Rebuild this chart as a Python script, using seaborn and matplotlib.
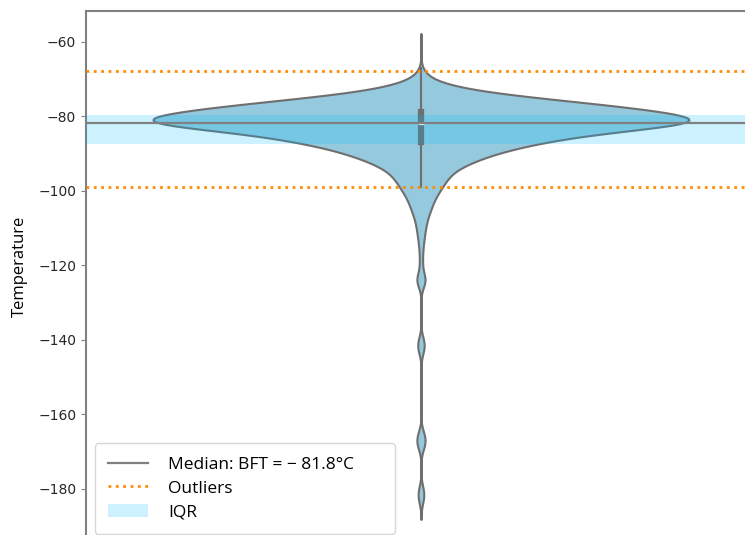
import numpy as np
import matplotlib
matplotlib.use("Agg")
import matplotlib.pyplot as plt
import seaborn as sns

# Frequency table of recorded temperatures (°C) and how often each occurs
temps = [-61, -67, -68, -69, -70, -71, -72, -73, -74, -75, -76, -77, -78, -79,
         -80, -81, -82, -83, -84, -85, -86, -87, -88, -89, -90, -91, -92, -93,
         -94, -95, -96, -97, -98, -99, -100, -101, -102, -103, -104, -105, -106,
         -107, -108, -109, -110, -111, -112, -113, -114, -115, -116, -117, -118,
         -119, -120, -121,
         -122, -123, -124, -125, -126,
         -139, -140, -141, -142, -143, -144,
         -164, -165, -166, -167, -168, -169, -170,
         -179, -180, -181, -182, -183, -184, -185]
counts = [1, 2, 6, 12, 16, 38, 58, 96, 140, 216, 292, 360, 428, 488,
          524, 556, 570, 462, 380, 320, 276, 236, 200, 172, 144, 124, 106, 88,
          72, 62, 56, 50, 46, 42, 36, 32, 28, 24, 22, 20, 16,
          14, 12, 10, 9, 8, 7, 6, 5, 4, 4, 3, 3,
          3, 3, 3,
          4, 9, 12, 9, 4,
          3, 6, 8, 8, 6, 3,
          3, 6, 9, 10, 9, 6, 3,
          3, 5, 7, 7, 5, 3, 1]

# Summary statistics shown as reference lines
median_bft = -81.8
q1, q3 = -87.4, -79.6
median_label = "Median: BFT = \u2212 81.8°C"

obs = np.repeat(np.array(temps, dtype=float), counts)

fig = plt.figure(figsize=(7.45, 5.35), dpi=100)
ax = fig.add_axes([0.1154, -0.0135, 0.8993, 0.9929])

sns.violinplot(y=obs, color="skyblue", inner="box", bw_method=0.125,
               gridsize=400, linewidth=1.5, ax=ax,
               inner_kws=dict(box_width=4.5, whis_width=1.5))

iqr = q3 - q1
ax.axhspan(q1, q3, color="#00bfff", alpha=0.2, lw=0, label="IQR", zorder=3)
ax.axhline(median_bft, color="gray", lw=1.6, label=median_label, zorder=4)
ax.axhline(q3 + 1.5 * iqr, color="darkorange", lw=2, ls=":",
           label="Outliers", zorder=4)
ax.axhline(q1 - 1.5 * iqr, color="darkorange", lw=2, ls=":", zorder=4)

ax.set_xlim(-0.5, 0.5)
ax.set_ylim(-194.3, -51.8)
ax.set_yticks([-60, -80, -100, -120, -140, -160, -180])
ax.set_ylabel("Temperature", fontsize=12, family=["Open Sans", "DejaVu Sans"])
ax.yaxis.set_label_coords(-0.0866, 0.52)
ax.tick_params(axis="y", labelsize=10, color="gray", length=3.5,
               labelcolor="#262626")
ax.tick_params(axis="x", bottom=False, labelbottom=False)
for side in ["left", "top", "right", "bottom"]:
    ax.spines[side].set_color("gray")
    ax.spines[side].set_linewidth(1.5)

handles, labels = ax.get_legend_handles_labels()
order = [labels.index(l) for l in [median_label, "Outliers", "IQR"]]
ax.legend([handles[i] for i in order], [labels[i] for i in order],
          loc="lower left", bbox_to_anchor=(0, 0, 0.474, 1), mode="expand",
          prop={"family": ["Open Sans", "DejaVu Sans"], "size": 12.5},
          handlelength=2.3, handletextpad=1.2, labelspacing=0.45,
          borderpad=0.75)

fig.savefig("out.png", dpi=100)
